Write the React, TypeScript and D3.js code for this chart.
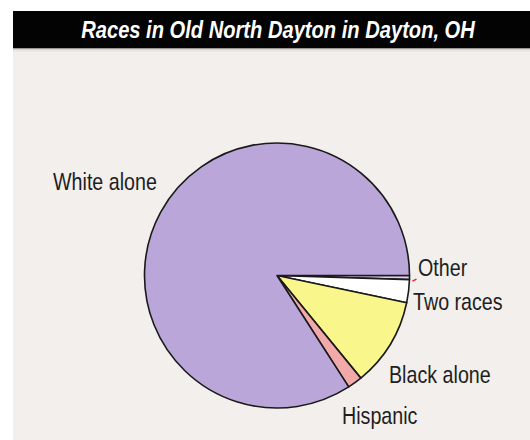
import React from "react";
import * as d3 from "d3";

const categories = ["Other", "Two races", "Black alone", "Hispanic", "White alone"];
const values = [0.5, 2.8, 10.8, 1.8, 84.1];
const colors = ["#ddd0f0", "#ffffff", "#f9f78c", "#f2a9aa", "#bba6da"];
const title = "Races in Old North Dayton in Dayton, OH";

// label anchor offsets relative to pie centre (layout only)
const labelOffsets: Record<string, [number, number]> = {
  "White alone": [-224, -86],
  Other: [141, 0],
  "Two races": [136, 34],
  "Black alone": [112, 107],
  Hispanic: [65, 148],
};

const W = 530;
const H = 440;
const cx = 277;
const cy = 275.5;
const R = 132.5;
const FONT = "'Liberation Sans', Arial, Helvetica, sans-serif";
const NARROW = 0.82;

export default function App() {
  const data = categories.map((c, i) => ({ c, v: values[i], col: colors[i] }));
  const pie = d3
    .pie<any>()
    .sort(null)
    .value((d: any) => d.v)
    .startAngle(Math.PI / 2)
    .endAngle(Math.PI / 2 + 2 * Math.PI);
  const arcs = pie(data);
  const arc = d3.arc<any>().innerRadius(0).outerRadius(R);

  const other = arcs[0];
  const mid = (other.startAngle + other.endAngle) / 2;
  const lx1 = Math.sin(mid) * (R + 3);
  const ly1 = -Math.cos(mid) * (R + 3) + 3.5;
  const lx2 = lx1 + 4;
  const ly2 = ly1 - 2;

  return (
    <svg
      width={W}
      height={H}
      style={{ position: "absolute", left: 0, top: 0, background: "#ffffff" }}
    >
      <rect x={13} y={11} width={W - 13} height={H - 11} fill="#f2efec" />
      <rect x={13} y={11} width={W - 13} height={37} fill="#030303" />
      <rect x={13} y={48} width={W - 13} height={1.5} fill="#9a9896" />
      <rect x={13} y={49.5} width={W - 13} height={2} fill="#e6e3e0" />
      <text
        transform="translate(278,38) scale(0.875,1)"
        textAnchor="middle"
        fill="#ffffff"
        fontFamily={FONT}
        fontStyle="italic"
        fontWeight="bold"
        fontSize={23}
      >
        {title}
      </text>
      <g transform={`translate(${cx},${cy})`}>
        {arcs.map((a, i) => (
          <path
            key={i}
            d={arc(a) as string}
            fill={a.data.col}
            stroke="#1a1a1a"
            strokeWidth={1.6}
            strokeLinejoin="round"
          />
        ))}
        <line x1={lx1} y1={ly1} x2={lx2} y2={ly2} stroke="#e8202a" strokeWidth={1.3} />
        {categories.map((c) => (
          <text
            key={c}
            transform={`translate(${labelOffsets[c][0]},${labelOffsets[c][1]}) scale(${NARROW},1)`}
            fill="#1e1e1e"
            fontFamily={FONT}
            fontSize={24}
          >
            {c}
          </text>
        ))}
      </g>
    </svg>
  );
}
